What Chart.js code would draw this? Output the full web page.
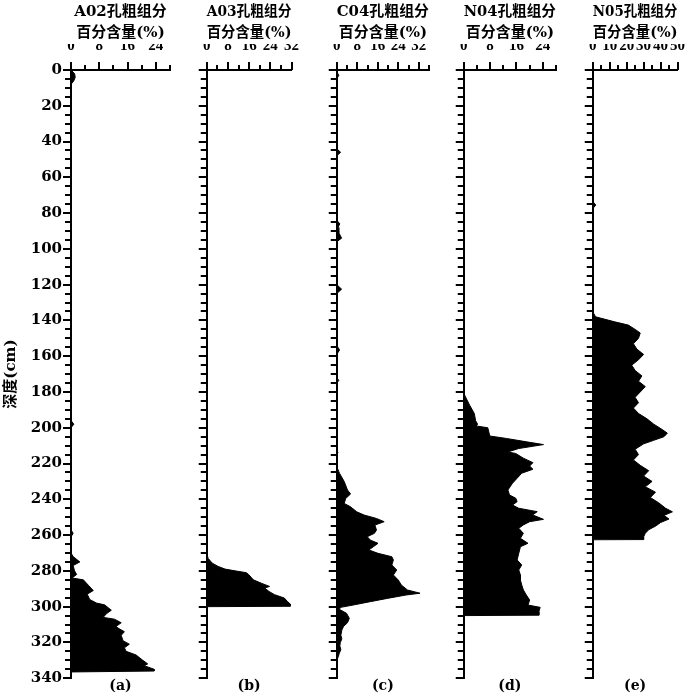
<!DOCTYPE html>
<html>
<head>
<meta charset="utf-8">
<script src="https://cdn.jsdelivr.net/npm/chart.js@4.4.1/dist/chart.umd.min.js"></script>
<style>
  body { margin: 0; background: #fff; }
  #wrap { position: relative; width: 700px; height: 697px; }
  canvas { position: absolute; top: 0; }
</style>
</head>
<body>
<div id="wrap">
  <canvas id="pa" width="185" height="697" style="left:0px"></canvas>
  <canvas id="pb" width="126" height="697" style="left:188px"></canvas>
  <canvas id="pc" width="126" height="697" style="left:318px"></canvas>
  <canvas id="pd" width="126" height="697" style="left:445px"></canvas>
  <canvas id="pe" width="126" height="697" style="left:574px"></canvas>
</div>
<script>
// borehole names and panel letters
const cores = ['A02', 'A03', 'C04', 'N04', 'N05'];
const letters = ['(a)', '(b)', '(c)', '(d)', '(e)'];

// x axis (percentage) ranges and tick spacing
const xMax = [28, 32, 36, 28, 50];
const xMinorStep = [4, 4, 4, 4, 5];
const xLabelStep = [8, 8, 8, 8, 10];

// depth axis (cm)
const depthMax = 340;
const depthMinorStep = 5;
const depthLabels = [0, 20, 40, 60, 80, 100, 120, 140, 160, 180, 200, 220, 240, 260, 280, 300, 320, 340];

// A02
const a02Depth = [0, 2, 4, 6, 8, 196, 198, 200, 257, 259, 261, 270, 272, 275, 277, 280,
  282, 284, 285, 288, 291, 293, 296, 298, 299, 302, 304, 306, 307, 309, 311,
  312, 314, 316, 319, 321, 323, 325, 327, 330, 332, 333, 335, 336, 336.5];
const a02Value = [0, 1.0, 1.2, 0.8, 0, 0, 0.8, 0, 0, 0.6, 0, 0, 0.6, 2.5, 0.6, 1.0,
  1.6, 0.3, 3.5, 4.9, 6.3, 4.6, 5.3, 7.2, 9.5, 11.4, 10.0, 9.1, 12.3, 14.2, 12.8,
  13.3, 15.1, 14.2, 14.7, 16.5, 15.1, 15.6, 18.4, 20.3, 21.7, 20.7, 23.5, 23.5, 0];

// A03
const a03Depth = [0, 270, 273, 275.7, 277.5, 279, 280, 281, 282, 285, 287, 288.7,
  289.6, 291.5, 293.3, 295.2, 297, 298.5, 299.8, 300];
const a03Value = [0, 0, 0.5, 2.1, 4.3, 6.9, 10.7, 14.9, 15.8, 17.6, 20.8, 23.7,
  21.9, 23.5, 25.6, 29.3, 30.4, 31.5, 31.5, 0];

// C04
const c04Depth = [0, 1, 3, 5, 44, 46, 48, 84, 86, 88, 91, 94, 96, 120, 122.5, 125,
  154, 156.5, 159, 172, 173.5, 175, 213, 214, 215,
  221.8, 225.5, 230, 234.8, 237, 239.5, 242.3, 244.2, 247, 248.8, 250.7, 252.5,
  254.4, 257.2, 259, 260.9, 262.8, 264.6, 266.5, 268.3, 270.2, 272.1, 273.9,
  276.7, 279.5, 282.3, 285.1, 287.9, 290.7, 292.5, 293.5, 295.4, 297.2, 299.1,
  300.4, 301.5, 303.7, 306.5, 309, 311, 313, 316, 318, 320, 322, 324, 326, 328, 330];
const c04Value = [0, 0, 0.8, 0, 0, 1.5, 0, 0, 1.2, 0.5, 0.8, 1.9, 0, 0, 1.9, 0,
  0, 1.1, 0, 0, 0.8, 0, 0, 0.5, 0,
  0, 1.1, 2.9, 4.2, 5.4, 3.5, 2.9, 5.4, 7.8, 10.7, 15.5, 18.5,
  14.9, 15.5, 14.7, 11.9, 13.1, 16.1, 14.3, 12.5, 16.1, 21.5, 22.1,
  21.5, 23.4, 22.1, 24.0, 25.2, 27.6, 32.5, 27.0, 19.7, 13.1, 6.4,
  1.5, 1.0, 3.8, 4.9, 4.2, 2.7, 2.0, 1.6, 2.0, 1.4, 1.2, 1.6, 1.0, 0.6, 0];

// N04
const n04Depth = [0, 180.8, 187.4, 192, 196, 198, 199, 200, 204.6, 206, 208, 209.4,
  211.6, 213.5, 214.4, 217, 219.5, 221.4, 223.2, 225.4, 228.2, 231, 234.8, 237.6,
  239.4, 241.3, 243.2, 245, 246.9, 248.7, 251.2, 252.5, 254.3, 256.2, 259, 261.8,
  264.6, 266.5, 270.2, 273.9, 276.7, 279.5, 282.3, 285.1, 287.9, 290.7, 293.5,
  296.3, 299.1, 300.4, 302.8, 304.8, 305];
const n04Value = [0, 0, 1.8, 3.2, 3.6, 4.2, 3.8, 7.3, 7.9, 13.0, 19.5, 24.2,
  16.7, 13.4, 15.8, 18.1, 21.0, 20.0, 21.0, 17.6, 16.2, 14.8, 13.4, 13.9,
  15.8, 16.2, 14.8, 16.7, 22.3, 20.9, 24.2, 20.0, 18.1, 16.7, 18.1, 17.2,
  19.5, 17.2, 16.7, 16.2, 17.6, 16.7, 17.2, 17.2, 17.6, 18.1, 19.0,
  20.0, 19.5, 23.2, 22.8, 22.8, 0];

// N05
const n05Depth = [0, 73.5, 75.5, 77.5, 135.2, 138, 140.8, 142.6, 145, 147, 150, 153,
  156, 159, 162, 165, 168, 171, 174, 177, 180, 183, 186, 189, 192, 195, 198,
  201, 203, 205, 207, 209, 212, 215, 218, 221, 224, 227, 230, 233, 236, 239,
  242, 245, 247, 249, 251, 253, 255, 257, 259, 261, 262.5, 262.6];
const n05Value = [0, 0, 1.8, 0, 0, 1.7, 13, 21, 25, 28, 27, 24,
  26, 30, 27, 23, 25, 29, 27, 31, 28, 25, 27, 24, 27, 32, 36,
  41, 44, 42, 36, 30, 25, 27, 24, 28, 33, 30, 35, 31, 37, 34,
  39, 43, 47, 42, 45, 40, 37, 33, 31, 30, 30, 0];

const depths = [a02Depth, a03Depth, c04Depth, n04Depth, n05Depth];
const values = [a02Value, a03Value, c04Value, n04Value, n05Value];
const canvasIds = ['pa', 'pb', 'pc', 'pd', 'pe'];

const serif = "'DejaVu Serif', 'Noto Sans CJK SC', serif";
const tickSerif = "'Liberation Serif', serif";

// short and long tick marks, placed with the chart's own scales
const tickMarks = {
  id: 'tickMarks',
  afterDraw(chart, args, o) {
    const { ctx, chartArea } = chart;
    const x = chart.scales.x, y = chart.scales.y;
    ctx.save();
    ctx.strokeStyle = '#000';
    ctx.lineWidth = 2;
    ctx.beginPath();
    for (let v = 0; v <= o.max + 1e-6; v += o.step) {
      const px = Math.round(x.getPixelForValue(v));
      const len = v % o.labelStep === 0 ? 8 : 5;
      ctx.moveTo(px, chartArea.top);
      ctx.lineTo(px, chartArea.top - len);
    }
    for (let d = 0; d <= depthMax; d += depthMinorStep) {
      const py = Math.round(y.getPixelForValue(d));
      const len = depthLabels.includes(d) ? 8 : 6;
      ctx.moveTo(chartArea.left, py);
      ctx.lineTo(chartArea.left - len, py);
    }
    ctx.stroke();
    ctx.restore();
  }
};

cores.forEach((core, i) => {
  const first = i === 0;
  new Chart(document.getElementById(canvasIds[i]), {
    type: 'line',
    data: {
      datasets: [{
        data: depths[i].map((d, k) => ({ x: values[i][k], y: d })),
        borderColor: '#000',
        backgroundColor: '#000',
        borderWidth: 1,
        pointRadius: 0,
        tension: 0,
        fill: 'origin'
      }]
    },
    options: {
      indexAxis: 'y',
      responsive: false,
      animation: false,
      layout: { padding: { left: 0, right: 14, top: 0, bottom: 0 } },
      plugins: {
        legend: { display: false },
        tooltip: { enabled: false },
        title: {
          display: true,
          text: [core + '孔粗组分', '百分含量(%)'],
          fullSize: false,
          color: '#000',
          font: { family: serif, size: 15, weight: 'bold', lineHeight: 1.4 },
          padding: { top: 2, bottom: 0 }
        },
        subtitle: {
          display: true,
          position: 'bottom',
          text: letters[i],
          fullSize: false,
          color: '#000',
          font: { family: serif, size: 14, weight: 'bold', lineHeight: 1.2 },
          padding: { top: 0, bottom: 2 }
        },
        tickMarks: { max: xMax[i], step: xMinorStep[i], labelStep: xLabelStep[i] }
      },
      scales: {
        x: {
          type: 'linear',
          position: 'top',
          min: 0,
          max: xMax[i],
          grid: { display: false, drawTicks: false },
          border: { color: '#000', width: 2 },
          ticks: {
            stepSize: xMinorStep[i],
            autoSkip: false,
            maxRotation: 0,
            padding: 15,
            color: '#000',
            font: { family: tickSerif, size: 15, weight: 'bold' },
            callback: v => (v % xLabelStep[i] === 0 ? String(v) : '')
          },
          afterFit: s => { s.height = 26; }
        },
        y: {
          type: 'linear',
          reverse: true,
          min: 0,
          max: depthMax,
          grid: { display: false, drawTicks: false },
          border: { color: '#000', width: 2 },
          ticks: {
            display: first,
            stepSize: 20,
            autoSkip: false,
            padding: 9,
            color: '#000',
            font: { family: serif, size: 15, weight: 'bold' }
          },
          title: {
            display: first,
            text: '深度(cm)',
            color: '#000',
            font: { family: serif, size: 15, weight: 'bold' },
            padding: { top: 2, bottom: 0 }
          },
          afterFit: s => { s.width = first ? 71 : 12; }
        }
      }
    },
    plugins: [tickMarks]
  });
});
</script>
</body>
</html>
